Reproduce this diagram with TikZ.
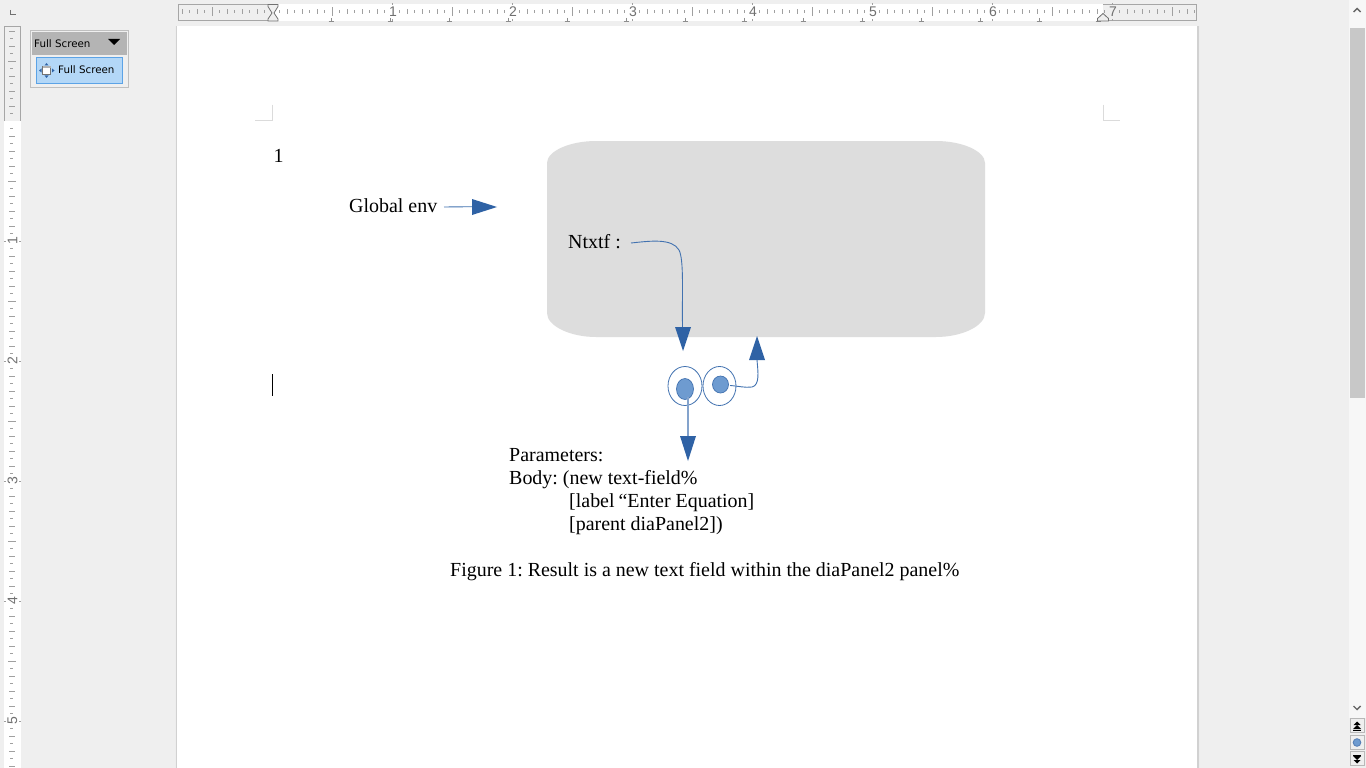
\documentclass[tikz,border=0pt]{standalone}
\usepackage{fontspec}
\setmainfont{Liberation Serif}
\newfontfamily\uifont{DejaVu Sans}
\newfontfamily\rulerfont{Liberation Sans}
\definecolor{appbg}{HTML}{EFEFEF}
\definecolor{rulerline}{HTML}{A6A6A6}
\definecolor{tickc}{HTML}{A0A0A0}
\definecolor{digitc}{HTML}{707070}
\definecolor{panelc}{HTML}{DDDDDD}
\definecolor{arrowc}{HTML}{2F62A5}
\definecolor{discc}{HTML}{6E9BD0}
\definecolor{ringc}{HTML}{4272B0}
\definecolor{tbhead}{HTML}{B4B4B4}
\definecolor{tbbtn}{HTML}{B3D7F7}
\definecolor{tbbtnb}{HTML}{5CA3E6}
\definecolor{thumbc}{HTML}{C8C8C8}
\tikzset{
  x=1pt,y=-1pt,
  body/.style={font=\frenchspacing\fontsize{19.95}{23}\selectfont,inner sep=0pt,anchor=base west},
  ui/.style={font=\uifont\fontsize{10.3}{12}\selectfont,inner sep=0pt,anchor=base west},
  rnum/.style={font=\rulerfont\fontsize{14}{15}\selectfont,text=digitc,inner sep=0pt},
  conn/.style={draw=ringc,line width=.9pt},
  bigtip/.style={draw=none,fill=arrowc},
  disc/.style={draw=ringc,line width=.7pt,fill=discc},
  tickm/.style={draw=tickc,line width=.8pt},
  marker/.style={draw=digitc,line width=.8pt,fill=appbg},
  tabm/.style={draw=digitc!80!white,line width=.7pt},
  cropm/.style={draw=black!14,line width=1.6pt},
}
\begin{document}
\begin{tikzpicture}
\useasboundingbox (0,0) rectangle (1366,768);
\fill[appbg] (0,0) rectangle (1366,768);
% page with soft shadow
\fill[black!7] (174.5,26) rectangle (1200,768);
\fill[black!18] (175.8,26) rectangle (1198.6,768);
\fill[white] (177,26) rectangle (1197,768);
% horizontal ruler
\fill[white] (272,4) rectangle (1103,21);
\draw[rulerline,line width=1pt] (272,4.5) -- (178.5,4.5) -- (178.5,20.5) -- (272,20.5);
\draw[rulerline,line width=1pt] (1103,4.5) -- (1196.5,4.5) -- (1196.5,20.5) -- (1103,20.5);
\foreach \k in {-12,...,123}{
  \pgfmathsetmacro{\xx}{272+\k*7.5}
  \pgfmathtruncatemacro{\m}{mod(\k+160,16)}
  \pgfmathtruncatemacro{\q}{mod(\k+160,8)}
  \pgfmathtruncatemacro{\e}{mod(\k+160,2)}
  \ifnum\m=0\relax\else
    \ifnum\q=0\relax
      \draw[tickm] (\xx,7.5) -- (\xx,16);
    \else
      \ifnum\e=0\relax
        \draw[tickm] (\xx,9.5) -- (\xx,14.5);
      \else
        \draw[tickm] (\xx,10.5) -- (\xx,13.5);
      \fi
    \fi
  \fi
}
\foreach \n in {1,...,7}{
  \pgfmathsetmacro{\xx}{273+\n*120}
  \node[rnum] (h\n) at (\xx,12) {\n};
  \pgfmathsetmacro{\xt}{272+\n*120}
  \draw[tickm] (\xt,3.5) -- (\xt,5.5) (\xt,19.5) -- (\xt,21);
}
% default tab stops
\foreach \k in {1,...,14}{
  \pgfmathsetmacro{\xx}{272+\k*59}
  \draw[tabm] (\xx,18) -- (\xx,21) (\xx-2.5,21) -- (\xx+2.5,21);
}
\draw[marker] (268,21) -- (278,21) -- (278,19) -- (274,13) -- (278,6.5) -- (278,4.5) -- (268,4.5) -- (268,6.5) -- (272,13) -- (268,19) -- cycle;
\draw[marker] (1097.5,21) -- (1108.5,21) -- (1108.5,18.5) -- (1103,13.5) -- (1097.5,18.5) -- cycle;
% corner mark
\draw[digitc,line width=1.6pt] (10.5,10) -- (10.5,14.5) -- (16,14.5);
% vertical ruler
\fill[white] (4,121) rectangle (21,768);
\draw[rulerline,line width=1pt] (4.5,121) -- (4.5,26.5) -- (20.5,26.5) -- (20.5,121);
\foreach \k in {-12,...,86}{
  \pgfmathsetmacro{\yy}{121+\k*7.5}
  \pgfmathtruncatemacro{\m}{mod(\k+160,16)}
  \pgfmathtruncatemacro{\q}{mod(\k+160,8)}
  \pgfmathtruncatemacro{\e}{mod(\k+160,2)}
  \ifnum\m=0\relax\else
    \ifnum\q=0\relax
      \draw[tickm] (8,\yy) -- (16,\yy);
    \else
      \ifnum\e=0\relax
        \draw[tickm] (9,\yy) -- (14.5,\yy);
      \else
        \draw[tickm] (10,\yy) -- (13,\yy);
      \fi
    \fi
  \fi
}
\foreach \n in {1,...,5}{
  \pgfmathsetmacro{\yy}{121+\n*120}
  \node[rnum,rotate=90] (v\n) at (12.5,\yy) {\n};
  \draw[tickm] (4,\yy) -- (6,\yy) (19,\yy) -- (21,\yy);
}
% toolbar
\draw[black!25,line width=.8pt,fill=appbg] (30.5,30.5) rectangle (128.5,87.5);
\fill[tbhead] (32,32) rectangle (127,55);
\node[ui] (tbt) at (34,47.5) {Full Screen};
\fill[black] (108,39) -- (120,39) -- (114,45) -- cycle;
\draw[tbbtnb,line width=.8pt,fill=tbbtn] (36.5,57.5) rectangle (122.5,83.5);
\node[ui] (tbb) at (58,73.5) {Full Screen};
\draw[black!55,line width=.7pt,fill=white] (42.5,66.5) rectangle (50.5,74.5);
\fill[black!30] (42.5,66.5) rectangle (50.5,68.5);
\fill[arrowc] (46.5,63) -- (44.5,65.5) -- (48.5,65.5) -- cycle
  (46.5,78) -- (44.5,75.5) -- (48.5,75.5) -- cycle
  (39,70.5) -- (41.5,68.5) -- (41.5,72.5) -- cycle
  (54.5,70.5) -- (52,68.5) -- (52,72.5) -- cycle;
% scrollbar
\fill[white!97!black] (1349,0) rectangle (1366,718);
\fill[thumbc] (1350,28) rectangle (1365,398);
\draw[black!60,line width=1.4pt] (1353.5,12) -- (1357,8.5) -- (1360.5,12);
\draw[black!60,line width=1.4pt] (1353.5,706) -- (1357,709.5) -- (1360.5,706);
\foreach \yy in {719,736,752}{
  \draw[black!28,line width=.9pt,fill=appbg] (1350.5,\yy-.5) rectangle (1364.5,\yy+13.5);
}
\fill[black] (1357,721.5) -- (1353.5,725) -- (1360.5,725) -- cycle;
\fill[black] (1357,725) -- (1353,729) -- (1361,729) -- cycle;
\fill[black] (1353,729.5) rectangle (1361,730.5);
\draw[arrowc!80!white,line width=.9pt,fill=discc] (1357,742.5) circle (3.8);
\fill[black] (1353,754.5) rectangle (1361,755.5);
\fill[black] (1357,760) -- (1353,756) -- (1361,756) -- cycle;
\fill[black] (1357,763.5) -- (1353.5,760) -- (1360.5,760) -- cycle;
% crop marks
\draw[cropm] (272.5,104.5) -- (272.5,120.5) -- (255,120.5);
\draw[cropm] (1103.5,104.5) -- (1103.5,120.5) -- (1120,120.5);
% panel
\fill[panelc] (596,141) -- (936,141) .. controls (962,141) and (985,151) .. (985,163)
  -- (985,313) .. controls (985,326) and (962,337) .. (936,337)
  -- (596,337) .. controls (570,337) and (547,326) .. (547,313)
  -- (547,163) .. controls (547,151) and (570,141) .. (596,141) -- cycle;
% text
\node[body] (one) at (273.5,162) {1};
\node[body] (genv) at (349,212) {Global env};
\node[body] (ntxtf) at (568,248) {Ntxtf :};
\node[body] (p1) at (509,461) {Parameters:};
\node[body] (p2) at (509,484) {Body: (new text-field\%};
\node[body] (p3) at (569,507) {[label\kern-1pt{} “Enter Equation]};
\node[body] (p4) at (569,530) {[parent diaPanel2])};
\node[body] (cap) at (450,576) {Figure 1: Result is a new text field within the diaPanel2 panel\%};
% cursor
\draw[black,line width=.9pt] (272.5,374) -- (272.5,396);
% closures
\draw[ringc,line width=.8pt,fill=white] (685,386) ellipse (17 and 19.5);
\draw[ringc,line width=.8pt,fill=white] (719.5,386) ellipse (16.5 and 19.5);
\coordinate (d1) at (685,389);
\coordinate (d2) at (720.5,384.5);
\draw[disc] (d1) ellipse (8.5 and 10.5);
\draw[disc] (d2) ellipse (8 and 8.5);
% connectors
\coordinate (a1s) at (444,207);
\coordinate (a1e) at (472,206.7);
\draw[conn] (a1s) -- (a1e);
\fill[bigtip] (472,199) -- (497,207) -- (472,215) -- cycle;
\coordinate (a2s) at (631,243);
\coordinate (a2e) at (682.5,327);
\draw[conn] (a2s) .. controls (650,241) and (672,238) .. (679,250) .. controls (684,260) and (682,290) .. (a2e);
\fill[bigtip] (675,327) -- (691,327) -- (683,351) -- cycle;
\coordinate (a3e) at (688,437);
\draw[draw=ringc!65,line width=1.3pt] (688,397) -- (a3e);
\fill[bigtip] (680,436) -- (696,436) -- (688,461) -- cycle;
\coordinate (a4e) at (757,360);
\draw[conn] (730,385.5) .. controls (738,386) and (745,388) .. (752,387) .. controls (760,385) and (758,372) .. (a4e);
\fill[bigtip] (749,360) -- (765,360) -- (757,336) -- cycle;
\end{tikzpicture}
\end{document}
